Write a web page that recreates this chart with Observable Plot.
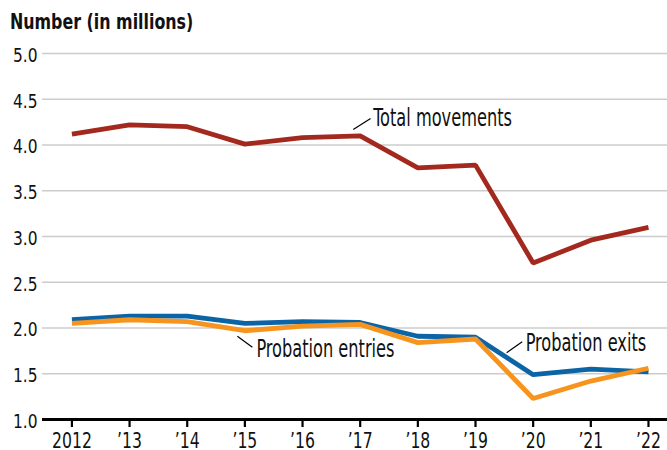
<!DOCTYPE html>
<html>
<head>
<meta charset="utf-8">
<script src="https://cdn.jsdelivr.net/npm/d3@7"></script>
<script src="https://cdn.jsdelivr.net/npm/@observablehq/plot@0.6"></script>
<style>
  html, body { margin: 0; padding: 0; background: #fff; }
  #wrap { position: relative; width: 667px; height: 450px; overflow: hidden; background: #fff; }
  #title { position: absolute; left: 10px; top: 12px; font: bold 21px/21px "DejaVu Sans Condensed", "Liberation Sans Narrow", sans-serif; color: #111; white-space: nowrap; transform: scaleX(0.84); transform-origin: 0 0; }
  #chart { position: absolute; left: 0; top: 40px; }
</style>
</head>
<body>
<div id="wrap">
  <div id="title">Number (in millions)</div>
  <div id="chart"></div>
</div>
<script>
const years = [2012, 2013, 2014, 2015, 2016, 2017, 2018, 2019, 2020, 2021, 2022];
const totalMovements   = [4.12, 4.22, 4.20, 4.01, 4.08, 4.10, 3.75, 3.78, 2.71, 2.96, 3.10];
const probationExits   = [2.09, 2.13, 2.13, 2.05, 2.07, 2.06, 1.91, 1.90, 1.49, 1.55, 1.52];
const probationEntries = [2.05, 2.09, 2.07, 1.97, 2.02, 2.04, 1.84, 1.88, 1.23, 1.42, 1.56];
const yTicks = [1.0, 1.5, 2.0, 2.5, 3.0, 3.5, 4.0, 4.5, 5.0];
const xTickLabels = ["2012", "\u201913", "\u201914", "\u201915", "\u201916", "\u201917", "\u201918", "\u201919", "\u201920", "\u201921", "\u201922"];

// annotation labels (data units)
const labelNames = ["Total movements", "Probation entries", "Probation exits"];
const labelX = [2017.23, 2015.2, 2019.87];
const labelY = [4.29, 1.77, 1.83];
const leaderX1 = [2016.88, 2014.87, 2019.54];
const leaderY1 = [4.17, 1.91, 1.73];
const leaderX2 = [2017.18, 2015.13, 2019.81];
const leaderY2 = [4.29, 1.79, 1.85];

const colors = { total: "#a3291f", exits: "#0b64a5", entries: "#f7941d" };
const font = "'DejaVu Sans Condensed', 'Liberation Sans Narrow', sans-serif";

const mk = (vals) => years.map((yr, i) => ({ year: yr, value: vals[i] }));
const labels = labelNames.map((t, i) => ({ text: t, x: labelX[i], y: labelY[i], x1: leaderX1[i], y1: leaderY1[i], x2: leaderX2[i], y2: leaderY2[i] }));

const lineOpts = { x: "year", y: "value", strokeWidth: 4.8, strokeLinejoin: "miter", strokeLinecap: "butt" };

const chart = Plot.plot({
  width: 667,
  height: 410,
  marginTop: 13,
  marginLeft: 42,
  marginRight: 0,
  marginBottom: 31,
  x: { domain: [2011.49, 2022.33] },
  y: { domain: [1, 5] },
  style: { fontFamily: font, fontSize: "20px", color: "#111", background: "white", overflow: "visible" },
  marks: [
    Plot.ruleY(yTicks.filter(t => t > 1), { stroke: "#cccccc", strokeWidth: 1.5 }),
    Plot.axisY({ ticks: yTicks, tickSize: 0, tickPadding: 5, dy: 2, tickFormat: d => d.toFixed(1), label: null, fontSize: 20 }),
    Plot.axisX({ ticks: years, tickSize: 8, tickPadding: 6, strokeWidth: 2.2, stroke: "#000", tickFormat: d => xTickLabels[years.indexOf(d)], label: null, fontSize: 21 }),
    Plot.ruleY([1], { stroke: "#000", strokeWidth: 3 }),
    Plot.line(mk(probationExits), { ...lineOpts, stroke: colors.exits }),
    Plot.line(mk(probationEntries), { ...lineOpts, stroke: colors.entries }),
    Plot.line(mk(totalMovements), { ...lineOpts, stroke: colors.total }),
    Plot.link(labels, { x1: "x1", y1: "y1", x2: "x2", y2: "y2", stroke: "#000", strokeWidth: 1.2 }),
    Plot.text(labels, { x: "x", y: "y", text: "text", textAnchor: "start", lineAnchor: "middle", fontSize: 24, fill: "#111" })
  ]
});
document.getElementById("chart").appendChild(chart);

// condense glyphs horizontally to mimic a condensed typeface, keeping the anchor point fixed
function squeeze(selector, f) {
  chart.querySelectorAll(selector).forEach(el => {
    const bb0 = el.getBBox();
    const L = el.getComputedTextLength();
    el.setAttribute("textLength", (L * f).toFixed(1));
    el.setAttribute("lengthAdjust", "spacingAndGlyphs");
    const bb1 = el.getBBox();
    const anchor = getComputedStyle(el).textAnchor;
    let shift;
    if (anchor === "middle") shift = (bb0.x + bb0.width / 2) - (bb1.x + bb1.width / 2);
    else if (anchor === "end") shift = (bb0.x + bb0.width) - (bb1.x + bb1.width);
    else shift = bb0.x - bb1.x;
    if (Math.abs(shift) > 0.1) el.setAttribute("dx", shift.toFixed(1));
  });
}
squeeze('g[aria-label="x-axis tick label"] text', 0.83);
squeeze('g[aria-label="y-axis tick label"] text', 0.86);
squeeze('g[aria-label="text"] text', 0.75);
</script>
</body>
</html>
